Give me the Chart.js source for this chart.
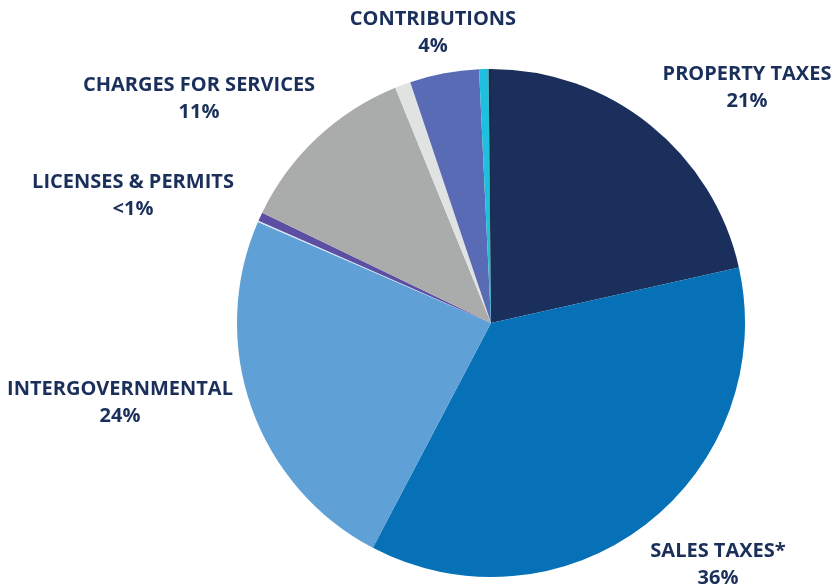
<!DOCTYPE html>
<html>
<head>
<meta charset="utf-8">
<script src="https://cdn.jsdelivr.net/npm/chart.js@4"></script>
<style>
  body { margin: 0; background: #ffffff; }
  #wrap { width: 831px; height: 586px; }
</style>
</head>
<body>
<div id="wrap"><canvas id="revenue-chart" width="831" height="586"></canvas></div>
<script>
// slices, clockwise from 12 o'clock
const categories = ['Property Taxes', 'Sales Taxes*', 'Intergovernmental', 'Other (tiny)', 'Licenses & Permits',
                    'Charges for Services', 'Other', 'Contributions', 'Other 2', 'Other 3'];
const shares = [21.5, 36.2, 23.8, 0.1, 0.55, 11.7, 1.0, 4.4, 0.6, 0.15];
const sliceColors = ['#1a2f5c', '#0671b7', '#5fa1d6', '#d6e8f6', '#5b4ea3',
                     '#aaacab', '#e1e2e2', '#5a6bb5', '#1fbfe0', '#1a2a40'];

// outside labels: name, percent text
const labelNames = ['PROPERTY TAXES', 'SALES TAXES*', 'INTERGOVERNMENTAL', 'LICENSES & PERMITS', 'CHARGES FOR SERVICES', 'CONTRIBUTIONS'];
const labelPcts = ['21%', '36%', '24%', '<1%', '11%', '4%'];
const labelSpots = [[747, 74], [718, 551], [120, 389], [133, 182], [199, 85], [433, 19]];

// draws the category names around the pie
const outsideLabels = {
    id: 'outsideLabels',
    afterDraw(chart) {
        const ctx = chart.ctx;
        ctx.save();
        ctx.fillStyle = '#1b2f5b';
        ctx.textAlign = 'center';
        ctx.textBaseline = 'middle';
        ctx.font = 'bold 20px "Open Sans"';
        labelNames.forEach((name, i) => {
            const [x, y] = labelSpots[i];
            ctx.fillText(name, x, y);
            ctx.fillText(labelPcts[i], x, y + 27);
        });
        ctx.restore();
    }
};

const ctx = document.getElementById('revenue-chart').getContext('2d');
new Chart(ctx, {
    type: 'pie',
    data: {
        labels: categories,
        datasets: [{
            data: shares,
            backgroundColor: sliceColors,
            borderWidth: 0
        }]
    },
    options: {
        responsive: false,
        animation: false,
        layout: { padding: { left: 237, right: 86, top: 69, bottom: 9 } },
        plugins: {
            legend: { display: false },
            tooltip: { enabled: false }
        }
    },
    plugins: [outsideLabels]
});
</script>
</body>
</html>
